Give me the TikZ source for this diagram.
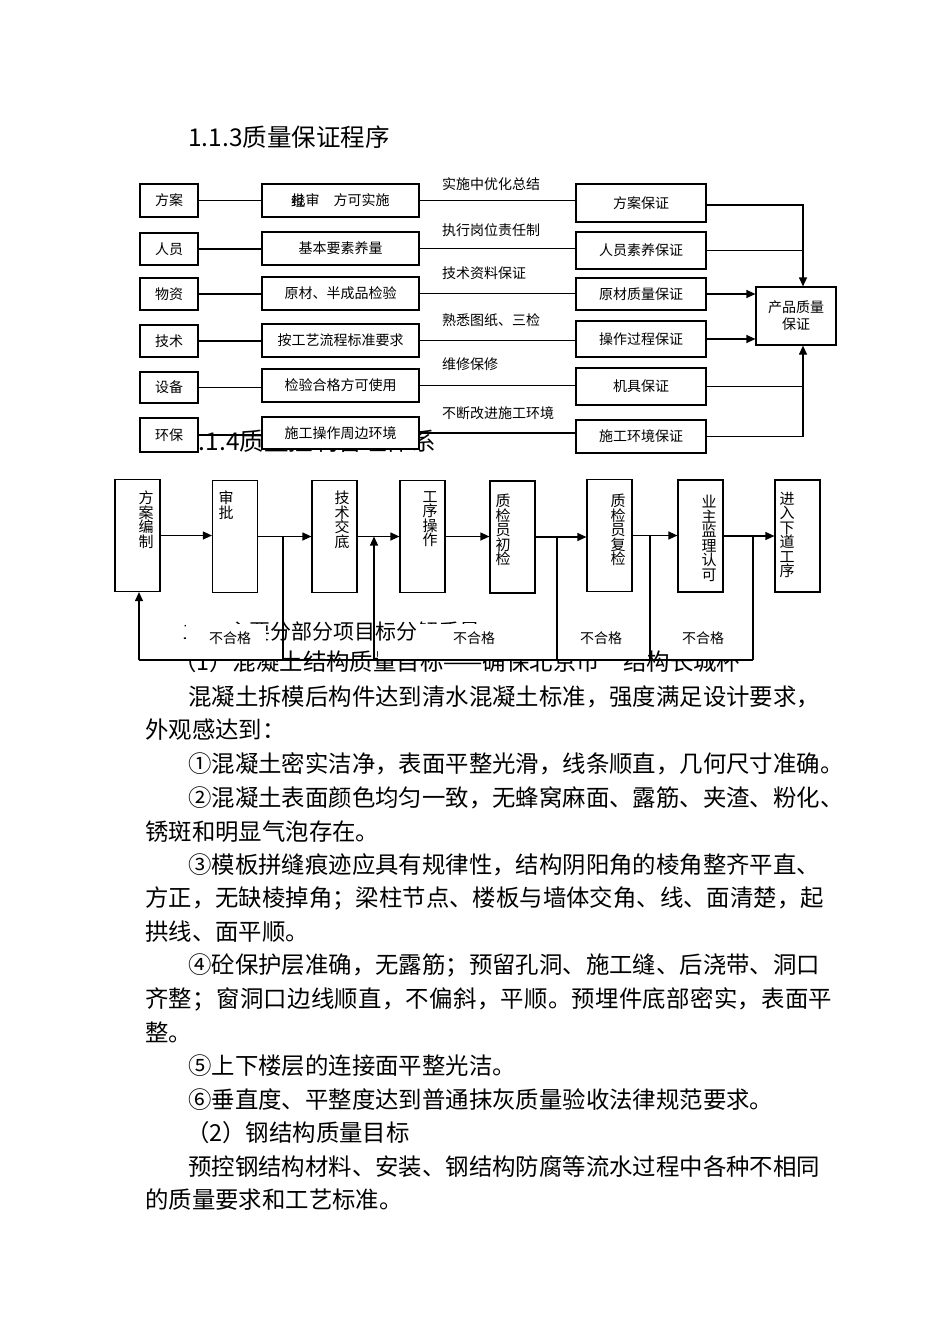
\documentclass[tikz,border=0pt]{standalone}
\usepackage{fontspec}
\setmainfont{Noto Sans CJK SC}
\usetikzlibrary{arrows.meta,calc}

\tikzset{
  box/.style={draw, line width=1.2pt, fill=white, inner sep=0pt, font=\fontsize{14}{17}\selectfont, align=center},
  tallbox/.style={box, minimum width=45pt, minimum height=112pt},
  vtext/.style={anchor=north, align=center, inner sep=0pt, font=\fontsize{15}{14.5}\selectfont},
  lbl/.style={anchor=west, inner sep=0pt, font=\fontsize{14}{14}\selectfont},
  body/.style={anchor=west, inner sep=0pt, text height=20.6pt, text depth=2.8pt, font=\fontsize{23.4}{23.4}\selectfont},
  head/.style={anchor=west, inner sep=0pt, text height=21pt, text depth=3pt, font=\fontsize{24.5}{24.5}\selectfont},
  conn/.style={line width=1.2pt},
  arr/.style={line width=1.2pt, -{Triangle[length=9pt,width=8pt]}},
  cover/.style={fill=white, draw=none},
  bad/.style={fill=white, inner sep=2pt, font=\fontsize{14}{14}\selectfont},
}

\begin{document}
\begin{tikzpicture}[x=1pt,y=-1pt]
  % page
  \fill[white] (0,0) rectangle (950,1344);
  \useasboundingbox (0,0) rectangle (950,1344);

  % Body text
  \node[head] (h3) at (188,137) {1.1.3质量保证程序};
  \foreach \y/\x/\t in {
      662/173/{（1）混凝土结构质量目标——确保北京市“结构长城杯”},
      697/188/{混凝土拆模后构件达到清水混凝土标准，强度满足设计要求，},
      730/145/{外观感达到：},
      764/188/{①混凝土密实洁净，表面平整光滑，线条顺直，几何尺寸准确。},
      798/188/{②混凝土表面颜色均匀一致，无蜂窝麻面、露筋、夹渣、粉化、},
      832/145/{锈斑和明显气泡存在。},
      865/188/{③模板拼缝痕迹应具有规律性，结构阴阳角的棱角整齐平直、},
      898/145/{方正，无缺棱掉角；梁柱节点、楼板与墙体交角、线、面清楚，起},
      932/145/{拱线、面平顺。},
      965/188/{④砼保护层准确，无露筋；预留孔洞、施工缝、后浇带、洞口},
      1033/145/{整。},
      1066/188/{⑤上下楼层的连接面平整光洁。},
      1100/188/{⑥垂直度、平整度达到普通抹灰质量验收法律规范要求。},
      1133/186/{（2）钢结构质量目标},
      1167/188/{预控钢结构材料、安装、钢结构防腐等流水过程中各种不相同},
      1200/145/{的质量要求和工艺标准。}}
    \node[body] (line\y) at (\x,\y) {\t};
  \node[body] (line999) at (145,999)
    {\addfontfeature{LetterSpace=1.3}齐整；窗洞口边线顺直，不偏斜，平顺。预埋件底部密实，表面平};

  % Headings lying under the charts
  \node[head] (h4) at (185,441) {1.1.4质量控制管理体系};
  \node[head, font=\fontsize{21}{21}\selectfont] (h5) at (182,630) {1.1.5主要分部分项目标分解质量};

  % White patches of the chart canvas
  \fill[cover] (186,624) rectangle (266,660);
  \fill[cover] (418,624) rectangle (505,660);
  \fill[cover] (138,645) rectangle (283,660);
  \fill[cover] (378,645) rectangle (648,660);
  \fill[cover] (672,645) rectangle (764,660);

  % Quality assurance chart
  \node[box, minimum width=58pt, minimum height=33pt] (L1) at (169,200.5) {方案};
  \node[box, minimum width=58pt, minimum height=32pt] (L2) at (169,249) {人员};
  \node[box, minimum width=58pt, minimum height=32pt] (L3) at (169,294) {物资};
  \node[box, minimum width=58pt, minimum height=32pt] (L4) at (169,341) {技术};
  \node[box, minimum width=58pt, minimum height=31pt] (L5) at (169,387.5) {设备};
  \node[box, minimum width=58pt, minimum height=34pt] (L6) at (169,435) {环保};

  \node[box, minimum width=157pt, minimum height=33pt] (M1) at (340.5,200.5) {批审\hspace{14pt}方可实施};
  \node[inner sep=0pt, font=\fontsize{14}{14}\selectfont] (M1x) at ($(M1.center)+(-42.5,0)$) {经};
  \node[box, minimum width=157pt, minimum height=33pt] (M2) at (340.5,248.5) {基本要素养量};
  \node[box, minimum width=157pt, minimum height=33pt] (M3) at (340.5,293.5) {原材、半成品检验};
  \node[box, minimum width=157pt, minimum height=33pt] (M4) at (340.5,340.5) {按工艺流程标准要求};
  \node[box, minimum width=157pt, minimum height=33pt] (M5) at (340.5,385.5) {检验合格方可使用};
  \node[box, minimum width=157pt, minimum height=32pt] (M6) at (340.5,433) {施工操作周边环境};

  \node[box, minimum width=130pt, minimum height=38pt] (R1) at (641,203) {方案保证};
  \node[box, minimum width=130pt, minimum height=37pt] (R2) at (641,250.5) {人员素养保证};
  \node[box, minimum width=130pt, minimum height=32pt] (R3) at (641,294) {原材质量保证};
  \node[box, minimum width=130pt, minimum height=36pt] (R4) at (641,339) {操作过程保证};
  \node[box, minimum width=130pt, minimum height=37pt] (R5) at (641,386.5) {机具保证};
  \node[box, minimum width=130pt, minimum height=33pt] (R6) at (641,436.5) {施工环境保证};

  \node[box, minimum width=80pt, minimum height=58pt] (P) at (796,316) {产品质量\\保证};

  \node[lbl] (n1) at (442,184) {实施中优化总结};
  \node[lbl] (n2) at (442,230) {执行岗位责任制};
  \node[lbl] (n3) at (442,273) {技术资料保证};
  \node[lbl] (n4) at (442,320) {熟悉图纸、三检};
  \node[lbl] (n5) at (442,364) {维修保修};
  \node[lbl] (n6) at (442,413) {不断改进施工环境};

  \foreach \i in {1,...,6} {
    \draw[conn] (L\i.east) -- (L\i.east -| M\i.west);
    \draw[conn] (M\i.east) -- (M\i.east -| R\i.west);
  }

  \coordinate (Pt) at ($(P.north)+(7,0)$);
  \coordinate (Pb) at ($(P.south)+(7,0)$);
  \draw[arr] ([yshift=-2pt]R1.east) -| (Pt);
  \draw[conn] (R2.east) -- (R2.east -| Pt);
  \draw[arr] (R3.east) -- (R3.east -| P.west);
  \draw[arr] (R4.east) -- (R4.east -| P.west);
  \draw[conn] (R5.east) -- (R5.east -| Pt);
  \draw[arr] (R6.east) -| (Pb);

  % Inspection chart
  \node[tallbox] (B1) at (137.5,535.5) {};
  \node[tallbox] (B2) at (235,536.5) {};
  \node[tallbox] (B3) at (334.5,536.5) {};
  \node[tallbox] (B4) at (422.5,536.5) {};
  \node[tallbox] (B5) at (512.5,537) {};
  \node[tallbox] (B6) at (609.5,535.5) {};
  \node[tallbox] (B7) at (700.5,536) {};
  \node[tallbox] (B8) at (797.5,536) {};

  \node[vtext] (T1) at (146,491) {方\\案\\编\\制};
  \node[vtext] (T2) at (226,491) {审\\批};
  \node[vtext] (T3) at (342,491) {技\\术\\交\\底};
  \node[vtext] (T4) at (430,491) {工\\序\\操\\作};
  \node[vtext] (T5) at (503,494) {质\\检\\员\\初\\检};
  \node[vtext] (T6) at (618,494) {质\\检\\员\\复\\检};
  \node[vtext] (T7) at (709,495) {业\\主\\监\\理\\认\\可};
  \node[vtext] (T8) at (787,492) {进\\入\\下\\道\\工\\序};

  \foreach \a/\b in {1/2,2/3,3/4,4/5,5/6,6/7,7/8}
    \draw[arr] (B\a.east) -- (B\a.east -| B\b.west);

  \node[bad] (x1) at (230,638) {不合格};
  \node[bad] (x2) at (474,638) {不合格};
  \node[bad] (x3) at (601,638) {不合格};
  \node[bad] (x4) at (703,638) {不合格};

  \coordinate (j1) at (283,536.5);
  \coordinate (j2) at (557,537);
  \coordinate (j3) at (650,536);
  \coordinate (j4) at (753,536);
  \coordinate (k0) at (139,660);
  \coordinate (u1) at (374,660);
  \foreach \j in {j1,j2,j3,j4}
    \draw[conn] (\j) -- (\j |- k0);
  \draw[conn] (k0) -- (j4 |- k0);
  \draw[arr] (k0) -- (k0 |- B1.south);
  \draw[arr] (u1) -- (u1 |- B3.east);
\end{tikzpicture}
\end{document}
